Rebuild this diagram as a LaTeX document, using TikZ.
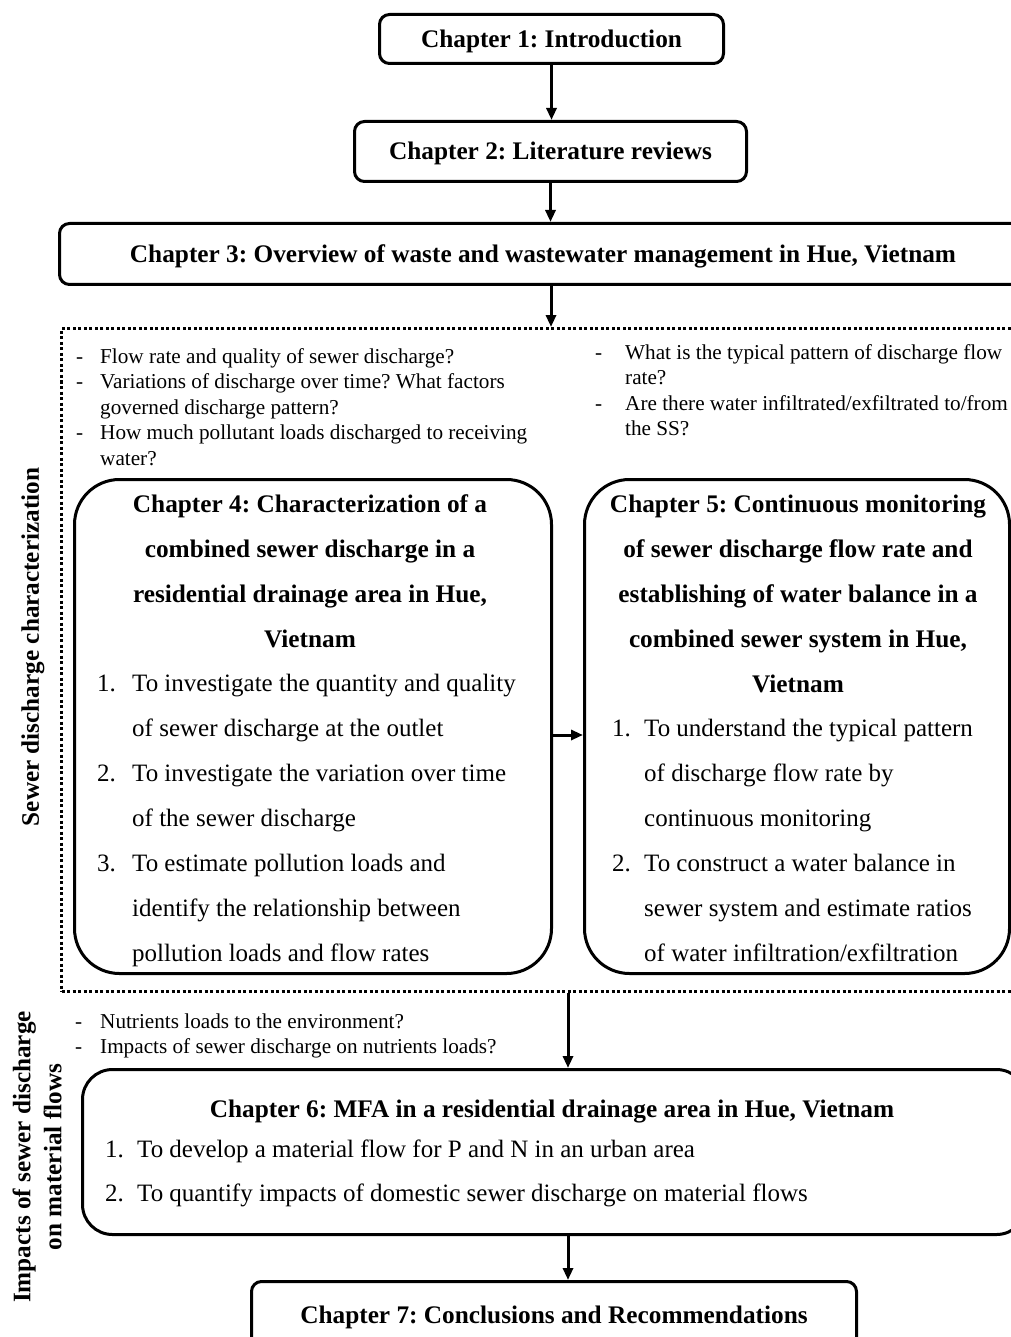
\documentclass[tikz,border=0pt]{standalone}
\usepackage{fontspec}
\setmainfont{Liberation Serif}
\usetikzlibrary{arrows.meta}
\newcommand\qd[2][25pt]{\makebox[#1][l]{#2}}
\frenchspacing
\begin{document}
\frenchspacing
\begin{tikzpicture}[x=1pt,y=-1pt,
  box/.style={draw, line width=3pt, rounded corners=10pt, inner sep=0pt, anchor=north west,
    font=\fontsize{25.3}{30}\selectfont\bfseries, text height=17pt, text depth=0pt},
  bigbox/.style={draw, line width=3pt, rounded corners=45pt, inner sep=0pt, anchor=north west},
  dotbox/.style={draw, line width=3pt, dash pattern=on 3pt off 2.5pt, inner sep=0pt, anchor=north west},
  titlef/.style={font=\fontsize{25.3}{45}\selectfont\bfseries, inner sep=0pt, anchor=base},
  listf/.style={font=\fontsize{25}{45}\selectfont, inner sep=0pt, anchor=base west},
  quest/.style={font=\fontsize{21.2}{25.5}\selectfont, inner sep=0pt, anchor=base west},
  sidelab/.style={font=\fontsize{25.2}{31}\selectfont\bfseries, rotate=90, align=center, inner sep=0pt},
  arr/.style={line width=3pt, -{Triangle[length=12pt,width=10pt]}}
]
\useasboundingbox (0,0) rectangle (1010,1337);
\fill[white] (0,0) rectangle (1010,1337);

% top chapters
\node[box, minimum width=344pt, minimum height=49pt] (c1) at (378,13) {Chapter 1: Introduction};
\node[box, minimum width=392pt, minimum height=60pt] (c2) at (353,120) {Chapter 2: Literature reviews};
\node[box, minimum width=967pt, minimum height=61pt] (c3) at (58,222) {Chapter 3: Overview of waste and wastewater management in Hue, Vietnam};

% dotted region
\node[dotbox, minimum width=990pt, minimum height=663pt] (sdc) at (60,327) {};

% questions
\node[quest] (q1) at (76,363) {\begin{tabular}[t]{@{}l@{}}
\qd[24pt]{-}Flow rate and quality of sewer discharge?\\
\qd[24pt]{-}Variations of discharge over time? What factors\\
\qd[24pt]{}governed discharge pattern?\\
\qd[24pt]{-}How much pollutant loads discharged to receiving\\
\qd[24pt]{}water?\end{tabular}};
\node[quest] (q2) at (595,359) {\begin{tabular}[t]{@{}l@{}}
\qd[30pt]{-}What is the typical pattern of discharge flow\\
\qd[30pt]{}rate?\\
\qd[30pt]{-}Are there water infiltrated/exfiltrated to/from\\
\qd[30pt]{}the SS?\end{tabular}};

% chapter 4 and 5
\node[bigbox, minimum width=477pt, minimum height=494pt] (c4) at (73,478) {};
\node[bigbox, minimum width=425pt, minimum height=494pt] (c5) at (583,478) {};

\node[titlef] (t4) at (310,512) {\begin{tabular}[t]{@{}c@{}}
Chapter 4: Characterization of a\\
combined sewer discharge in a\\
residential drainage area in Hue,\\
Vietnam\end{tabular}};
\node[listf] (l4) at (97,691) {\begin{tabular}[t]{@{}l@{}}
\qd[35pt]{1.}To investigate the quantity and quality\\
\qd[35pt]{}of sewer discharge at the outlet\\
\qd[35pt]{2.}To investigate the variation over time\\
\qd[35pt]{}of the sewer discharge\\
\qd[35pt]{3.}To estimate pollution loads and\\
\qd[35pt]{}identify the relationship between\\
\qd[35pt]{}pollution loads and flow rates\end{tabular}};

\node[titlef] (t5) at (798,512) {\begin{tabular}[t]{@{}c@{}}
Chapter 5: Continuous monitoring\\
of sewer discharge flow rate and\\
establishing of water balance in a\\
combined sewer system in Hue,\\
Vietnam\end{tabular}};
\node[listf] (l5) at (612,736) {\begin{tabular}[t]{@{}l@{}}
\qd[32pt]{1.}To understand the typical pattern\\
\qd[32pt]{}of discharge flow rate by\\
\qd[32pt]{}continuous monitoring\\
\qd[32pt]{2.}To construct a water balance in\\
\qd[32pt]{}sewer system and estimate ratios\\
\qd[32pt]{}of water infiltration/exfiltration\end{tabular}};

% bottom questions
\node[quest] (q3) at (75,1028) {\begin{tabular}[t]{@{}l@{}}
\qd[25pt]{-}Nutrients loads to the environment?\\
\qd[25pt]{-}Impacts of sewer discharge on nutrients loads?\end{tabular}};

% chapter 6
\node[bigbox, rounded corners=30pt, minimum width=944pt, minimum height=165pt] (c6) at (81,1068) {};
\node[titlef] (t6) at (552,1117) {Chapter 6: MFA in a residential drainage area in Hue, Vietnam};
\node[listf, font=\fontsize{25}{44}\selectfont] (l6) at (105,1157) {\begin{tabular}[t]{@{}l@{}}
\qd[32pt]{1.}To develop a material flow for P and N in an urban area\\
\qd[32pt]{2.}To quantify impacts of domestic sewer discharge on material flows\end{tabular}};

% chapter 7
\node[box, minimum width=605pt, minimum height=66pt] (c7) at (250,1280) {Chapter 7: Conclusions and Recommendations};

% side labels
\node[sidelab] (lab1) at (33,647) {Sewer discharge characterization};
\node[sidelab] (lab2) at (37,1157) {Impacts of sewer discharge\\on material flows};

% connectors
\coordinate (a3) at (551,0);
\coordinate (ax) at (568,0);
\coordinate (hy) at (0,735);
\draw[arr] (c1.south) -- (c1.south |- c2.north);
\draw[arr] (c2.south) -- (c2.south |- c3.north);
\draw[arr] (c3.south -| a3) -- (sdc.north -| a3);
\draw[arr] (c4.east |- hy) -- (c5.west |- hy);
\draw[arr] (sdc.south -| ax) -- (c6.north -| ax);
\draw[arr] (c6.south -| ax) -- (c7.north -| ax);
\end{tikzpicture}
\end{document}
